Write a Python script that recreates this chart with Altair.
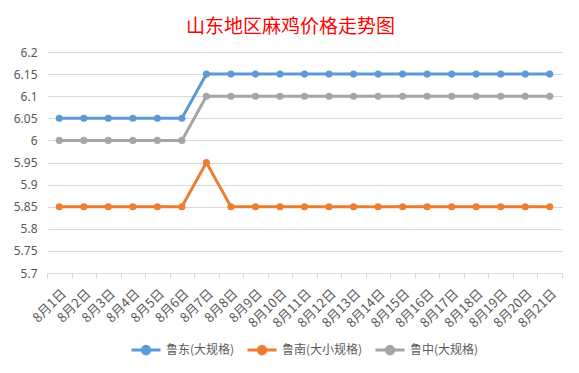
import altair as alt
import pandas as pd

days = [f"8月{i}日" for i in range(1, 22)]
series_names = ["鲁东(大规格)", "鲁南(大小规格)", "鲁中(大规格)"]
ludong = [6.05]*6 + [6.15]*15
lunan = [5.85]*6 + [5.95] + [5.85]*14
luzhong = [6.00]*6 + [6.10]*15
colors = ["#5B9BD5", "#ED7D31", "#A5A5A5"]
y_ticks = [5.7, 5.75, 5.8, 5.85, 5.9, 5.95, 6.0, 6.05, 6.1, 6.15, 6.2]

rows = []
for name, vals in zip(series_names, [ludong, lunan, luzhong]):
    for d, v in zip(days, vals):
        rows.append({"date": d, "series": name, "price": v})
df = pd.DataFrame(rows)

legend_path = "M-1,0H1M0.26,0A0.26,0.26,0,1,1,-0.26,0A0.26,0.26,0,1,1,0.26,0Z"

chart = alt.Chart(df).mark_line(
    strokeWidth=3,
    point=alt.OverlayMarkDef(filled=True, size=50, opacity=1),
).encode(
    x=alt.X("date:N", sort=days, title=None,
            scale=alt.Scale(paddingInner=0, paddingOuter=0),
            axis=alt.Axis(labelAngle=-45, tickBand="extent", labelFontSize=13,
                          labelColor="#595959", domainColor="#D9D9D9", tickColor="#D9D9D9",
                          tickSize=5, grid=False, labelPadding=9,
                          labelFont="Noto Sans CJK SC")),
    y=alt.Y("price:Q", title=None,
            scale=alt.Scale(domain=[5.7, 6.2], nice=False, zero=False),
            axis=alt.Axis(values=y_ticks, format=".3~r", domain=False, ticks=False,
                          labelFontSize=12, labelColor="#595959", gridColor="#D9D9D9",
                          labelPadding=10, labelFont="Noto Sans")),
    color=alt.Color("series:N", sort=series_names,
                    scale=alt.Scale(domain=series_names, range=colors),
                    legend=alt.Legend(title=None, orient="none", direction="horizontal",
                                      legendX=83, legendY=282,
                                      symbolType=legend_path, symbolSize=841,
                                      symbolStrokeWidth=3, labelFontSize=12,
                                      labelColor="#595959", labelFont="Noto Sans CJK SC",
                                      columnPadding=6, labelOffset=4)),
).properties(
    width=515,
    height=221,
    title=alt.Title("山东地区麻鸡价格走势图", color="#FF0000", fontSize=19,
                    font="Noto Sans CJK SC", fontWeight="normal", anchor="middle",
                    dx=-14, offset=9),
    autosize=alt.AutoSizeParams(type="none"),
    padding={"left": 39, "top": 44, "right": 9, "bottom": 92},
).configure_view(stroke=None)

chart.save("out.html", embed_options={"renderer": "svg", "actions": False})
